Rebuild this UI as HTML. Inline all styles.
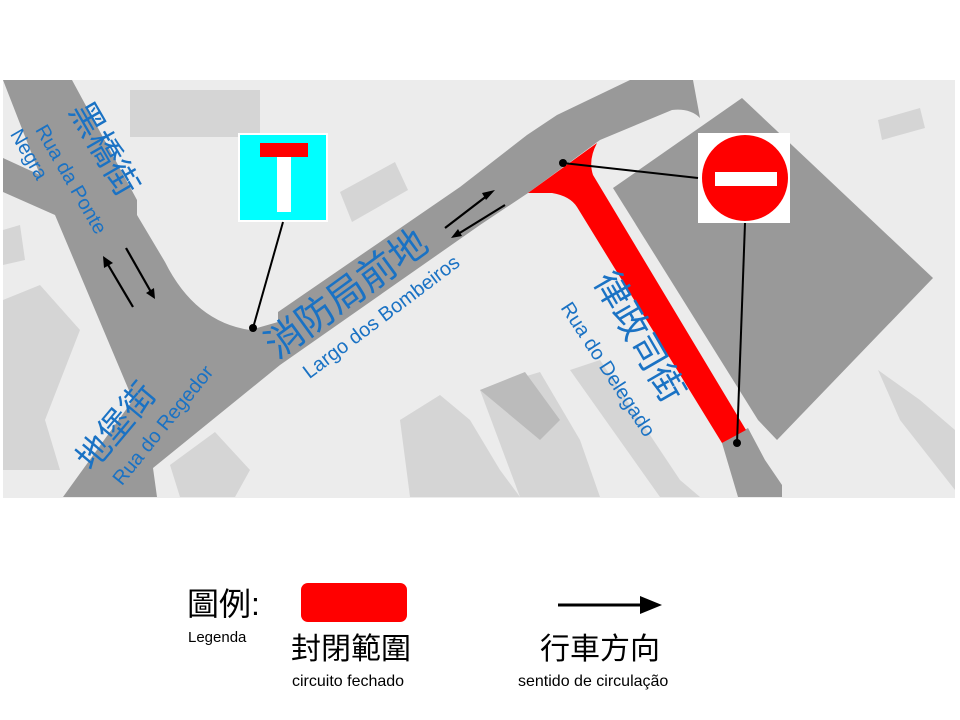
<!DOCTYPE html>
<html><head><meta charset="utf-8"><style>
body{margin:0;background:#fff;width:960px;height:720px;overflow:hidden}
svg{display:block}
.b{fill:#1a72c4;font-family:"Liberation Sans","Noto Sans CJK TC",sans-serif}
.k{fill:#000;font-family:"Liberation Sans","Noto Sans CJK TC",sans-serif}
</style></head><body>
<svg width="960" height="720" viewBox="0 0 960 720" xmlns="http://www.w3.org/2000/svg">
<rect x="3" y="80" width="952" height="418" fill="#ececec"/>
<g fill="#d5d5d5">
<rect x="130" y="90" width="130" height="47"/>
<polygon points="340,192 395,162 408,190 352,222"/>
<polygon points="878,120 920,108 925,128 882,140"/>
<polygon points="3,300 40,285 80,330 45,420 60,470 3,470"/>
<polygon points="878,370 920,400 955,430 955,490 900,420"/>
<polygon points="170,465 215,432 250,470 235,497 180,497"/>
<polygon points="400,420 440,395 470,420 500,470 520,497 410,497"/>
<polygon points="480,390 540,372 580,440 600,497 520,497"/>
<polygon points="570,370 600,360 680,480 700,497 660,497"/>
<polygon points="3,230 20,225 25,260 3,265"/>
</g>
<g fill="#bbbbbb"><polygon points="480,390 525,372 560,420 540,440"/></g>
<polygon points="613,188 742,98 933,278 777,440 758,420" fill="#999"/>
<path d="M3,80 L72,80 L137,200 L137,215 L165,262 Q195,322 250,330 L278,322 L278,312 L460,187 L527,135 L557,115 L630,80 L693,80 L700,118 Q690,108 672,110 L600,140 L528,193 L480,225 L280,365 L153,468 L157,497 L63,497 L133,400 L55,215 L3,192 L3,158 L40,175 Z" fill="#999"/>
<polygon points="722,443 748,428 765,460 782,485 782,497 738,497" fill="#999"/>
<path d="M528,193 L597,143 Q588,160 593,175 L746,430 L722,443 L577,207 Q570,196 552,193 Z" fill="#f00"/>
<g stroke="#000" stroke-width="2.2" fill="#000">
<line x1="133" y1="307" x2="107" y2="263"/><polygon points="103,256 113,263 104,268" stroke="none"/>
<line x1="126" y1="248" x2="151" y2="292"/><polygon points="155,299 146,293 154,288" stroke="none"/>
<line x1="445" y1="228" x2="488" y2="195"/><polygon points="495,190 486,200 482,193" stroke="none"/>
<line x1="505" y1="205" x2="458" y2="234"/><polygon points="451,238 458,229 462,236" stroke="none"/>
</g>
<rect x="238" y="133" width="90" height="89" fill="#fff"/>
<rect x="240" y="135" width="86" height="85" fill="#00ffff"/>
<rect x="260" y="143" width="48" height="14" fill="#f00"/>
<rect x="277" y="157" width="14" height="55" fill="#fff"/>
<line x1="283" y1="222" x2="253" y2="328" stroke="#000" stroke-width="2"/>
<circle cx="253" cy="328" r="4" fill="#000"/>
<rect x="698" y="133" width="92" height="90" fill="#fff"/>
<circle cx="745" cy="178" r="43" fill="#f00"/>
<rect x="715" y="172" width="62" height="14" fill="#fff"/>
<line x1="698" y1="178" x2="563" y2="163" stroke="#000" stroke-width="2"/>
<circle cx="563" cy="163" r="4" fill="#000"/>
<line x1="745" y1="223" x2="737" y2="443" stroke="#000" stroke-width="2"/>
<circle cx="737" cy="443" r="4" fill="#000"/>
<text class="b" font-size="34" text-anchor="middle" transform="translate(102,150) rotate(60)" dominant-baseline="middle">黑橋街</text>
<text class="b" font-size="20" text-anchor="middle" transform="translate(70,180) rotate(60)" dominant-baseline="middle">Rua da Ponte</text>
<text class="b" font-size="20" text-anchor="middle" transform="translate(28,155) rotate(60)" dominant-baseline="middle">Negra</text>
<text class="b" font-size="34" text-anchor="middle" transform="translate(118,428) rotate(-50)" dominant-baseline="middle">地堡街</text>
<text class="b" font-size="20" text-anchor="middle" transform="translate(164,426) rotate(-51)" dominant-baseline="middle">Rua do Regedor</text>
<text class="b" font-size="38" text-anchor="middle" transform="translate(348,296) rotate(-36)" dominant-baseline="middle">消防局前地</text>
<text class="b" font-size="20" text-anchor="middle" transform="translate(382,318) rotate(-37)" dominant-baseline="middle">Largo dos Bombeiros</text>
<text class="b" font-size="36" text-anchor="middle" transform="translate(637,338) rotate(60)" dominant-baseline="middle">律政司街</text>
<text class="b" font-size="20" text-anchor="middle" transform="translate(607,370) rotate(57)" dominant-baseline="middle">Rua do Delegado</text>
<text class="k" x="187" y="615" font-size="32">圖例:</text>
<text class="k" x="188" y="642" font-size="15">Legenda</text>
<rect x="301" y="583" width="106" height="39" rx="7" fill="#f00"/>
<text class="k" x="291" y="659" font-size="30">封閉範圍</text>
<text class="k" x="292" y="686" font-size="16">circuito fechado</text>
<line x1="558" y1="605" x2="642" y2="605" stroke="#000" stroke-width="3"/>
<polygon points="640,596 662,605 640,614" fill="#000"/>
<text class="k" x="540" y="659" font-size="30">行車方向</text>
<text class="k" x="518" y="686" font-size="16">sentido de circulação</text>
</svg>
</body></html>
